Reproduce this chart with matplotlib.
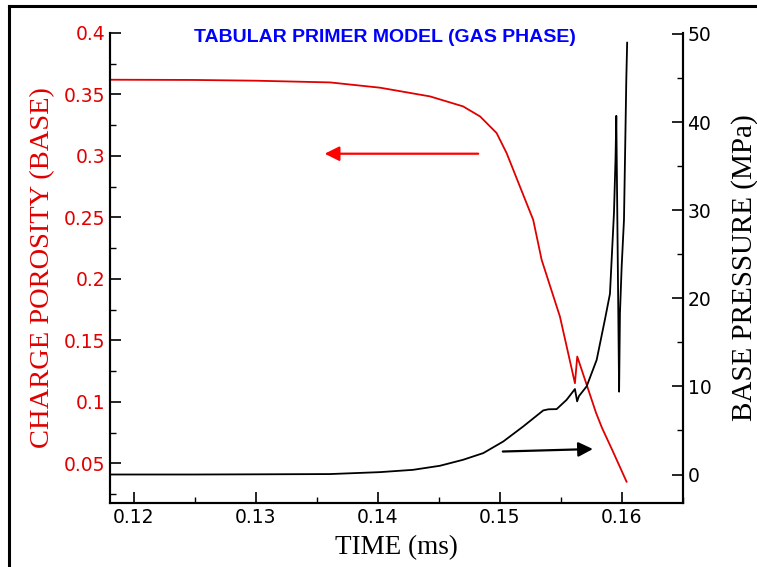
import numpy as np
import matplotlib
matplotlib.use("Agg")
import matplotlib.pyplot as plt
from matplotlib.lines import Line2D

# porosite de la charge (axe gauche)
t_poro = [0.118, 0.125, 0.130, 0.1361, 0.1402, 0.1443, 0.1470, 0.1484,
          0.14975, 0.15057, 0.15166, 0.15275, 0.15344, 0.15494, 0.15617,
          0.15636, 0.1579, 0.1584, 0.1592, 0.1604]
poro = [0.362, 0.3618, 0.3612, 0.3598, 0.3555, 0.3484, 0.3403, 0.3321,
        0.3186, 0.3023, 0.2751, 0.248, 0.2155, 0.1693, 0.1151,
        0.1368, 0.091, 0.0785, 0.0614, 0.035]

# pression au culot (axe droit, MPa)
t_pres = [0.118, 0.125, 0.130, 0.1361, 0.1402, 0.1429, 0.1451, 0.1470,
          0.14866, 0.1503, 0.15193, 0.15357, 0.1540, 0.15467, 0.15549,
          0.15617, 0.15635, 0.1565, 0.15713, 0.15795, 0.15863, 0.15904,
          0.15937, 0.1595, 0.15956, 0.15979, 0.15986, 0.1600, 0.16019,
          0.1603, 0.16038, 0.16045]
pres = [0.0, 0.0, 0.02, 0.05, 0.27, 0.53, 0.99, 1.67,
        2.43, 3.75, 5.45, 7.27, 7.4, 7.42, 8.48,
        9.7, 8.3, 8.9, 10.0, 13.0, 17.6, 20.5,
        29.7, 36.0, 40.7, 9.4, 18.3, 23.6, 28.9,
        38.0, 44.8, 49.0]

xticks = [0.12, 0.13, 0.14, 0.15, 0.16]
yticks_left = [0.05, 0.1, 0.15, 0.2, 0.25, 0.3, 0.35, 0.4]
yticks_right = [0, 10, 20, 30, 40, 50]

fig = plt.figure(figsize=(7.57, 5.67), dpi=100)
ax = fig.add_axes([0.1453, 0.1134, 0.7565, 0.8284])
ax2 = ax.twinx()

ax.plot(t_poro, poro, color="#e00000", lw=1.3, zorder=3)
ax2.plot(t_pres, pres, color="black", lw=1.3)

ax.set_xlim(0.11806, 0.165)
ax.set_ylim(0.0179, 0.4)
ax2.set_ylim(-3.2, 50.1)

ax.set_xticks(xticks)
ax.set_xticklabels([f"{v:g}" for v in xticks])
ax.set_xticks(np.arange(0.125, 0.165, 0.01), minor=True)
ax.set_yticks(yticks_left)
ax.set_yticklabels([f"{v:g}" for v in yticks_left])
ax.set_yticks(np.arange(0.025, 0.4, 0.05), minor=True)
ax2.set_yticks(yticks_right)
ax2.set_yticks(np.arange(5, 50, 10), minor=True)

for a in (ax, ax2):
    a.spines["top"].set_visible(False)
    for s in a.spines.values():
        s.set_linewidth(1.5)
    a.tick_params(which="major", direction="in", length=8, width=1.2, labelsize=13.5)
    a.tick_params(which="minor", direction="in", length=4, width=1.0)
ax.tick_params(axis="y", which="both", colors="black", labelcolor="#e00000")
ax2.tick_params(axis="y", which="both", right=True, left=False)
for lab in ax.get_xticklabels() + ax.get_yticklabels() + ax2.get_yticklabels():
    lab.set_fontfamily("DejaVu Sans")

ax.set_xlabel("TIME (ms)", fontfamily="Liberation Serif", fontsize=19.5, labelpad=6)
ax.set_ylabel("CHARGE POROSITY (BASE)", fontfamily="Liberation Serif",
              fontsize=20.5, color="#e00000", labelpad=6)
ax2.set_ylabel("BASE PRESSURE (MPa)", fontfamily="Liberation Serif",
               fontsize=21, labelpad=14)

ax.text(0.48, 0.99, "TABULAR PRIMER MODEL (GAS PHASE)", transform=ax.transAxes,
        ha="center", va="center", color="blue", fontsize=14,
        fontweight="bold", fontfamily="Liberation Sans")

# fleches indiquant l'axe de chaque courbe
ax.annotate("", xy=(0.13543, 0.3018), xytext=(0.14847, 0.3018),
            arrowprops=dict(arrowstyle="-|>", color="red", lw=1.6, mutation_scale=22))
ax2.annotate("", xy=(0.15787, 2.9), xytext=(0.15003, 2.6),
             arrowprops=dict(arrowstyle="-|>", color="black", lw=1.6, mutation_scale=22))

# cadre exterieur (gauche et haut)
fig.add_artist(Line2D([8.5 / 757, 8.5 / 757], [0, 1 - 5.5 / 567], color="black", lw=2.2))
fig.add_artist(Line2D([8.5 / 757, 1], [1 - 5.5 / 567, 1 - 5.5 / 567], color="black", lw=2.2))

fig.savefig("out.png", dpi=100)
